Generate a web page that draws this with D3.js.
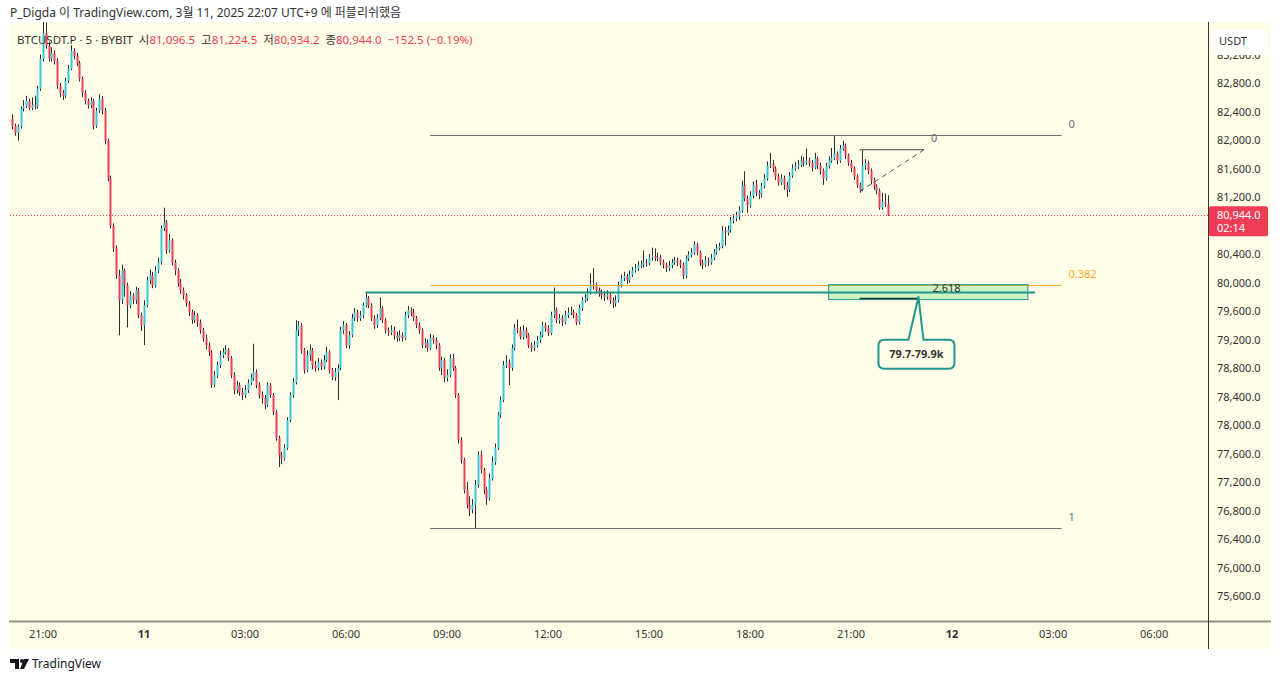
<!DOCTYPE html>
<html><head><meta charset="utf-8">
<script src="https://cdn.jsdelivr.net/npm/d3@7"></script>
<style>
body{margin:0;background:#fff;}
text{font-family:"Noto Sans","Noto Sans CJK KR",sans-serif;}
</style>
</head><body>
<svg id="c" width="1280" height="681"></svg>
<script>
// ---------- DATA ----------
const startTime = Date.UTC(2025,2,10,20,5);   // first 5-minute candle
const firstOpen = 82300;
const closes = [
82200,82100,82190,82440,82480,82550,82450,82490,82470,82720,
83140,83500,83320,83140,83220,83110,82760,82660,82620,82830,
83000,83250,83180,83080,82860,82660,82550,82490,82550,82200,
82410,82580,82410,81990,81460,80800,80480,80100,79750,80170,
79960,79680,79820,79750,79890,79540,79400,79680,80030,80100,
79960,80170,80280,80760,80840,80450,80590,80280,80170,79990,
79890,79820,79710,79580,79470,79540,79440,79330,79220,79120,
79020,78560,78700,78840,78980,79020,79050,78940,78700,78490,
78560,78460,78420,78490,78590,78660,78740,78560,78420,78380,
78280,78560,78420,78180,77820,77580,77530,77680,78070,78420,
78600,79330,79400,79050,78770,78980,79050,78840,78800,78880,
78820,78910,79020,78770,78670,78740,78800,79330,79400,79120,
79260,79500,79580,79500,79540,79680,79780,79680,79500,79400,
79500,79640,79470,79330,79300,79330,79260,79220,79260,79220,
79540,79610,79580,79500,79400,79330,79120,79160,79080,79220,
79190,79120,78800,78910,78660,78700,78940,78800,78420,77790,
77510,77090,76880,76810,76880,77160,77580,77370,77090,76970,
77250,77480,77680,78140,78350,78840,78880,78800,79080,79360,
79330,79240,79330,79260,79120,79080,79120,79190,79260,79400,
79360,79290,79540,79610,79470,79500,79440,79540,79580,79590,
79540,79440,79640,79750,79780,79860,79970,79950,79890,79860,
79820,79800,79830,79750,79710,79750,79960,80060,80090,80030,
80110,80170,80200,80240,80250,80280,80270,80350,80370,80340,
80350,80280,80250,80200,80240,80280,80310,80280,80250,80090,
80340,80390,80420,80530,80420,80280,80250,80310,80280,80340,
80420,80480,80510,80730,80700,80740,80870,80900,80930,81010,
81360,81180,81080,81220,81370,81260,81230,81350,81460,81640,
81670,81600,81490,81400,81460,81370,81300,81500,81600,81630,
81650,81710,81680,81710,81680,81610,81740,81640,81570,81460,
81630,81710,81750,81810,81710,81880,81920,81780,81680,81600,
81490,81370,81300,81640,81680,81570,81430,81350,81290,81050,
81130,81096.5,80944.0];
const highs = [
82360,82230,82220,82470,82560,82620,82580,82600,82620,82760,
83200,83700,83650,83380,83300,83260,83150,82800,82700,82870,
83050,83330,83290,83220,83110,82890,82700,82580,82600,82580,
82450,82640,82620,82450,82020,81500,80830,80520,80180,80250,
80200,80000,79880,79850,79940,79920,79580,79750,80080,80180,
80150,80230,80350,80800,81050,80880,80680,80620,80320,80200,
80050,79930,79850,79740,79620,79600,79570,79480,79360,79270,
79160,79050,78760,78890,79040,79080,79120,79080,78970,78740,
78620,78600,78520,78560,78640,78720,79140,78780,78600,78470,
78420,78600,78590,78450,78210,77850,77620,77730,78110,78460,
78660,79470,79460,79430,79080,79050,79130,79080,78900,78940,
78920,78980,79100,79050,78800,78800,78850,79380,79460,79430,
79320,79560,79640,79620,79600,79720,79860,79810,79710,79540,
79560,79790,79670,79500,79370,79400,79380,79310,79330,79300,
79590,79670,79650,79630,79530,79440,79360,79220,79200,79280,
79260,79230,79150,78960,78940,78780,78990,79000,78830,78450,
77830,77540,77200,77000,76960,77230,77630,77640,77400,77130,
77320,77560,77740,78180,78400,78900,78980,78920,79130,79420,
79480,79380,79400,79370,79290,79160,79180,79250,79310,79450,
79440,79400,79590,79930,79650,79560,79540,79600,79650,79660,
79620,79570,79690,79800,79840,79920,80130,80200,80000,79930,
79900,79880,79890,79860,79790,79820,80010,80110,80150,80120,
80170,80220,80260,80300,80310,80450,80330,80400,80490,80480,
80420,80390,80320,80280,80300,80330,80360,80350,80320,80280,
80380,80440,80480,80580,80560,80450,80320,80370,80350,80400,
80470,80540,80560,80790,80780,80800,80920,80960,80990,81070,
81430,81560,81220,81280,81420,81440,81300,81400,81520,81700,
81820,81720,81630,81530,81520,81500,81410,81550,81660,81690,
81720,81780,81760,81880,81750,81720,81820,81770,81680,81600,
81680,81770,81890,82070,81840,81930,81990,81950,81810,81720,
81630,81520,81400,81860,81730,81710,81600,81470,81380,81320,
81260,81250,81224.5];
const lows = [
82150,82060,81990,82160,82400,82450,82420,82420,82430,82440,
82690,83100,83280,83100,83100,83060,82720,82600,82560,82590,
82800,82980,83130,83040,82820,82600,82500,82440,82450,82150,
82170,82380,82360,81940,81420,80760,80430,80050,79260,79700,
79800,79370,79640,79700,79700,79500,79320,79120,79650,79980,
79920,79930,80130,80250,80720,80400,80420,80240,80100,79940,
79840,79760,79660,79530,79420,79430,79380,79280,79170,79060,
78970,78520,78530,78660,78800,78940,78990,78900,78660,78430,
78440,78410,78350,78380,78450,78560,78620,78520,78370,78300,
78220,78250,78380,78140,77780,77410,77450,77500,77650,78040,
78380,78570,79250,79000,78720,78740,78900,78780,78750,78760,
78770,78780,78880,78720,78630,78620,78350,78770,79280,79080,
79070,79230,79460,79450,79460,79500,79650,79640,79460,79350,
79360,79470,79430,79280,79250,79260,79200,79170,79180,79170,
79190,79500,79530,79460,79360,79280,79080,79080,79030,79050,
79140,79060,78760,78700,78600,78610,78670,78760,78380,77740,
77460,77040,76830,76720,76760,76550,77120,77320,77030,76880,
76940,77220,77440,77650,78100,78320,78800,78560,78760,79050,
79290,79200,79200,79220,79080,79030,79040,79090,79150,79230,
79310,79250,79260,79500,79430,79420,79390,79410,79500,79540,
79500,79400,79410,79600,79720,79740,79830,79900,79840,79800,
79760,79740,79760,79700,79640,79660,79720,79930,80020,79980,
80000,80080,80140,80160,80200,80210,80220,80240,80310,80300,
80300,80240,80200,80150,80160,80200,80250,80230,80200,80050,
80060,80300,80350,80390,80380,80230,80190,80220,80230,80250,
80310,80390,80450,80480,80520,80660,80700,80830,80860,80880,
80980,81140,80980,81050,81180,81210,81170,81190,81320,81430,
81610,81550,81440,81360,81370,81300,81200,81270,81470,81570,
81590,81620,81630,81650,81630,81560,81590,81590,81520,81370,
81430,81600,81680,81720,81660,81680,81850,81730,81640,81550,
81440,81330,81260,81280,81580,81520,81380,81300,81240,81020,
81020,81060,80934.2];

// 80,800 is hidden behind the last-price label in the reference
const priceTicks = [75600,76000,76400,76800,77200,77600,78000,78400,78800,79200,79600,80000,80400,81200,81600,82000,82400,82800,83200];
const timeTicks = [
  {t:Date.UTC(2025,2,10,21), label:"21:00", bold:false},
  {t:Date.UTC(2025,2,11,0),  label:"11",    bold:true},
  {t:Date.UTC(2025,2,11,3),  label:"03:00", bold:false},
  {t:Date.UTC(2025,2,11,6),  label:"06:00", bold:false},
  {t:Date.UTC(2025,2,11,9),  label:"09:00", bold:false},
  {t:Date.UTC(2025,2,11,12), label:"12:00", bold:false},
  {t:Date.UTC(2025,2,11,15), label:"15:00", bold:false},
  {t:Date.UTC(2025,2,11,18), label:"18:00", bold:false},
  {t:Date.UTC(2025,2,11,21), label:"21:00", bold:false},
  {t:Date.UTC(2025,2,12,0),  label:"12",    bold:true},
  {t:Date.UTC(2025,2,12,3),  label:"03:00", bold:false},
  {t:Date.UTC(2025,2,12,6),  label:"06:00", bold:false}
];
const headerText = "P_Digda 이 TradingView.com, 3월 11, 2025 22:07 UTC+9 에 퍼블리쉬했음";
const legendParts = [
  ["BTCUSDT.P · 5 · BYBIT", "d"], ["  시", "d"], ["81,096.5","r"], ["  고","d"], ["81,224.5","r"],
  ["  저","d"], ["80,934.2","r"], ["  종","d"], ["80,944.0","r"], ["  −152.5 (−0.19%)","r"]
];
const lastPrice = 80944.0, lastPriceLabel = "80,944.0", countdown = "02:14";
// Fibonacci retracement (high 0 / low 1) and annotations
const fibHigh = 82070, fibLow = 76550;
const fibLevels = [0, 0.382, 1];
const fibStart = Date.UTC(2025,2,11,8,30), fibEnd = Date.UTC(2025,2,12,3,15);
const resistance = {price:79860, t0:Date.UTC(2025,2,11,6,35), t1:Date.UTC(2025,2,12,2,28)};
const zone = {p0:79760, p1:79970, t0:Date.UTC(2025,2,11,20,20), t1:Date.UTC(2025,2,12,2,15), label:"2.618", tLabel:Date.UTC(2025,2,11,23,50)};
const ext = {tA:Date.UTC(2025,2,11,21,15), pTop:81863, pLow:81275, tEnd:Date.UTC(2025,2,11,23,10), p2618:79777, t2618End:Date.UTC(2025,2,11,23,0)};
const callout = {t:Date.UTC(2025,2,11,23,0), p:79800, text:"79.7-79.9k"};

// ---------- SCALES ----------
const W=1280, H=681;
const plot = {l:10, r:1208, t:22, b:621};
const x = d3.scaleUtc().domain([Date.UTC(2025,2,10,20,0), Date.UTC(2025,2,12,8,0)]).range([9.3, 9.3+2.806*432]);
const y = d3.scaleLinear().domain([75600, 82800]).range([596, 83]);

const BG = "#fffde8", UP = "#3cc3d7", DN = "#ec4058", WICK = "#2b2b2b", RED = "#ee3d55", TEAL = "#1f988a";
const svg = d3.select("#c");

// background panels
svg.append("rect").attr("x",0).attr("y",0).attr("width",W).attr("height",H).attr("fill","#fff");
svg.append("rect").attr("x",9).attr("y",22).attr("width",1262).attr("height",627).attr("fill",BG);

// header
svg.append("text").attr("x",10).attr("y",17).attr("font-size",12).attr("fill","#333").text(headerText);

svg.append("defs").append("clipPath").attr("id","clip").append("rect")
  .attr("x",plot.l).attr("y",plot.t).attr("width",plot.r-plot.l).attr("height",plot.b-plot.t);
const g = svg.append("g").attr("clip-path","url(#clip)");

// candles
const data = closes.map((c,i)=>{
  const o = i ? closes[i-1] : firstOpen;
  return {t:new Date(startTime+i*300000), o, c, h:Math.max(highs[i],o,c), l:Math.min(lows[i],o,c)};
});
const cg = g.append("g");
cg.selectAll("line.w").data(data).join("line")
  .attr("x1",d=>Math.round(x(d.t))+0.5).attr("x2",d=>Math.round(x(d.t))+0.5)
  .attr("y1",d=>y(d.h)).attr("y2",d=>y(d.l))
  .attr("stroke",WICK).attr("stroke-width",1);
cg.selectAll("rect.b").data(data).join("rect")
  .attr("x",d=>Math.round(x(d.t))-0.5).attr("width",2)
  .attr("y",d=>y(Math.max(d.o,d.c)))
  .attr("height",d=>Math.max(1, Math.abs(y(d.o)-y(d.c))))
  .attr("fill",d=>d.c>=d.o?UP:DN);

// fib retracement
fibLevels.forEach(lv=>{
  const p = fibHigh - lv*(fibHigh-fibLow);
  const col = lv===0.382 ? "#f5a623" : "#6b6e78";
  g.append("line").attr("x1",x(fibStart)).attr("x2",x(fibEnd)).attr("y1",Math.round(y(p))+0.5).attr("y2",Math.round(y(p))+0.5)
    .attr("stroke",col).attr("stroke-width",1);
  svg.append("text").attr("x",x(fibEnd)+7).attr("y",y(p)-7).attr("font-size",11).attr("fill",lv===0.382?"#f5a623":"#6b6e78")
    .text(lv===0?"0":lv===1?"1":"0.382");
});

// green zone
g.append("rect").attr("x",x(zone.t0)).attr("y",y(zone.p1)).attr("width",x(zone.t1)-x(zone.t0)).attr("height",y(zone.p0)-y(zone.p1))
  .attr("fill","rgba(100,220,120,0.32)").attr("stroke",TEAL).attr("stroke-width",1);
// resistance line
g.append("line").attr("x1",x(resistance.t0)).attr("x2",x(resistance.t1)).attr("y1",y(resistance.price)).attr("y2",y(resistance.price))
  .attr("stroke",TEAL).attr("stroke-width",2);
g.append("text").attr("x",x(zone.tLabel)).attr("y",y(zone.p1)+7).attr("text-anchor","middle")
  .attr("font-size",11).attr("fill","#333").text(zone.label);

// trend-based extension
g.append("line").attr("x1",x(ext.tA)).attr("x2",x(ext.tEnd)).attr("y1",y(ext.pTop)).attr("y2",y(ext.pTop)).attr("stroke","#444").attr("stroke-width",1);
g.append("line").attr("x1",x(ext.tA)).attr("x2",x(ext.tEnd)).attr("y1",y(ext.pLow)).attr("y2",y(ext.pTop)).attr("stroke","#555").attr("stroke-width",1).attr("stroke-dasharray","5,4");
g.append("line").attr("x1",x(ext.tA)).attr("x2",x(ext.t2618End)).attr("y1",y(ext.p2618)).attr("y2",y(ext.p2618)).attr("stroke","#1d3b35").attr("stroke-width",1.5);
svg.append("text").attr("x",x(ext.tEnd)+7).attr("y",y(ext.pTop)-8).attr("font-size",11).attr("fill","#6b6e78").text("0");

// callout
const cx = x(callout.t), cy = y(callout.p);
const bx0 = cx-40, bx1 = cx+36, by0 = cy+43, by1 = cy+72;
svg.append("path").attr("d",
  `M${bx0+6},${by0} L${cx-10},${by0} L${cx},${cy} L${cx+5},${by0} L${bx1-6},${by0} Q${bx1},${by0} ${bx1},${by0+6} L${bx1},${by1-6} Q${bx1},${by1} ${bx1-6},${by1} L${bx0+6},${by1} Q${bx0},${by1} ${bx0},${by1-6} L${bx0},${by0+6} Q${bx0},${by0} ${bx0+6},${by0} Z`)
  .attr("fill",BG).attr("stroke",TEAL).attr("stroke-width",2).attr("stroke-linejoin","round");
svg.append("text").attr("x",(bx0+bx1)/2).attr("y",(by0+by1)/2+4).attr("text-anchor","middle")
  .attr("font-size",11).attr("font-weight","bold").attr("fill","#333").text(callout.text);

// last price line
g.append("line").attr("x1",plot.l).attr("x2",plot.r).attr("y1",Math.round(y(lastPrice))+0.5).attr("y2",Math.round(y(lastPrice))+0.5)
  .attr("stroke",RED).attr("stroke-width",1).attr("stroke-dasharray","1,2");

// legend
const lg = svg.append("text").attr("x",17).attr("y",44).attr("font-size",11.5);
legendParts.forEach(([t,c])=>lg.append("tspan").attr("fill",c==="r"?RED:"#333").attr("xml:space","preserve").style("white-space","pre").text(t));

// axes frame
svg.append("line").attr("x1",9).attr("x2",1271).attr("y1",621.5).attr("y2",621.5).attr("stroke","#8f8f88").attr("stroke-width",2);
svg.append("line").attr("x1",1208.5).attr("x2",1208.5).attr("y1",22).attr("y2",649).attr("stroke","#333").attr("stroke-width",1);

// price axis labels
svg.append("g").selectAll("text").data(priceTicks).join("text")
  .attr("x",1217).attr("y",d=>y(d)+4).attr("font-size",11).attr("fill","#333")
  .text(d=>d3.format(",.1f")(d));
// USDT box
svg.append("rect").attr("x",1212).attr("y",30).attr("width",56).attr("height",25).attr("rx",4).attr("fill","#fff");
svg.append("text").attr("x",1233).attr("y",45).attr("text-anchor","middle").attr("font-size",11).attr("fill","#333").text("USDT");
// last price label
svg.append("rect").attr("x",1209).attr("y",y(lastPrice)-9).attr("width",59).attr("height",30).attr("rx",2).attr("fill",RED);
svg.append("text").attr("x",1217).attr("y",y(lastPrice)+3.5).attr("font-size",11).attr("fill","#fff").text(lastPriceLabel);
svg.append("text").attr("x",1217).attr("y",y(lastPrice)+17).attr("font-size",11).attr("fill","#fff").text(countdown);

// time axis labels
svg.append("g").selectAll("text").data(timeTicks).join("text")
  .attr("x",d=>x(new Date(d.t))).attr("y",638).attr("text-anchor","middle").attr("font-size",11)
  .attr("font-weight",d=>d.bold?"bold":"normal").attr("fill","#333").text(d=>d.label);

// TradingView logo
const logo = svg.append("g").attr("fill","#131722");
logo.append("path").attr("d","M10,659 h9 v10 h-4 v-6 h-5 z");
logo.append("circle").attr("cx",22).attr("cy",661).attr("r",2);
logo.append("path").attr("d","M24,659 h5 l-5,10 h-4 z");
svg.append("text").attr("x",32).attr("y",668).attr("font-size",12).attr("fill","#131722").text("TradingView");
</script>
</body></html>
